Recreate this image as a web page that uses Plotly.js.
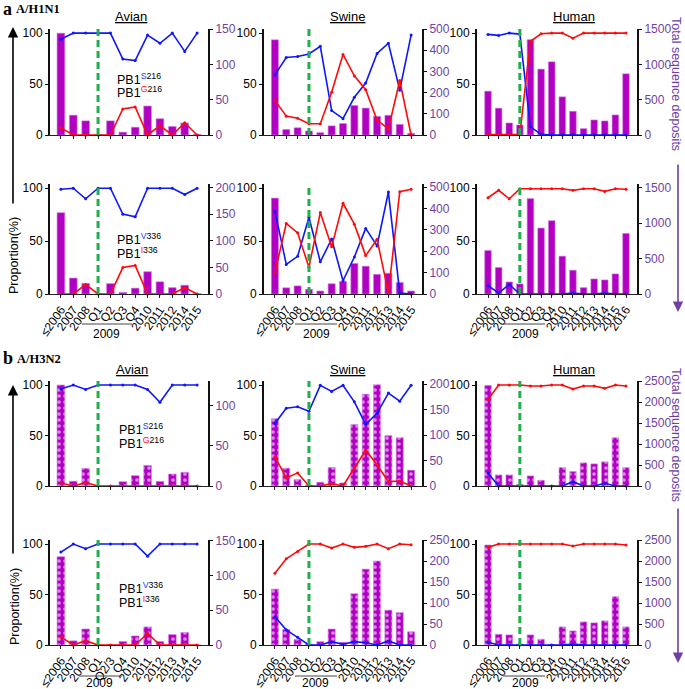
<!DOCTYPE html>
<html><head><meta charset="utf-8">
<script src="https://cdn.plot.ly/plotly-3.0.1.min.js"></script>
<style>html,body{margin:0;padding:0;background:#fff;}</style>
</head><body><div id="chart" style="width:685px;height:689px;"></div>
<script>
// ---------- categories ----------
const avianH1Cats = ['≤2006','2007','2008','Q1','Q2','Q3','Q4','2010','2011','2012','2014','2015'];
const avianH3Cats = ['≤2006','2007','2008','Q1','Q2/3','Q4','2010','2011','2012','2013','2014','2015'];
const swineCats   = ['≤2006','2007','2008','Q1','Q2','Q3','Q4','2010','2011','2012','2013','2014','2015'];
const humanCats   = ['≤2006','2007','2008','Q1','Q2','Q3','Q4','2010','2011','2012','2013','2014','2015','2016'];

// ---------- A/H1N1, residue 216 ----------
const h1AvianDep216 = [144, 28, 20, 0, 20, 4, 11, 41, 23, 12, 17, 1];
const h1AvianS216   = [94, 100, 100, 100, 100, 74.5, 73, 98, 90, 100, 82, 100];
const h1AvianG216   = [7, 0, 0, 0, 0, 25.5, 27.5, 0, 9, 0, 12, 0];
const h1SwineDep216 = [449, 26, 34, 19, 11, 43, 54, 139, 127, 88, 93, 50, 8];
const h1SwineS216   = [59, 76, 77, 79.5, 87, 24, 16, 37, 51, 80, 90, 44, 98];
const h1SwineG216   = [34, 18.5, 16.5, 11, 11, 42, 79, 58, 44.5, 14.6, 6, 53.5, 0];
const h1HumanDep216 = [620, 379, 170, 142, 1349, 932, 1036, 540, 336, 90, 213, 199, 284, 866];
const h1HumanS216   = [98.7, 97.7, 100, 99, 8, 0.7, 0, 0, 0.7, 0, 0, 0, 0, 0];
const h1HumanG216   = [0.5, 0.5, 0.3, 0.5, 92, 99.3, 100, 100, 95, 100, 100, 100, 100, 100];

// ---------- A/H1N1, residue 336 ----------
const h1AvianDep336 = [153, 30, 20, 0, 19.5, 3, 11, 42, 23, 12, 16.5, 1];
const h1AvianV336   = [99, 100, 90, 100, 100, 75.5, 73, 100, 100, 100, 94, 100];
const h1AvianI336   = [0, 0, 9, 0, 0, 25, 27, 0, 0, 0, 6, 0];
const h1SwineDep336 = [449, 29, 38, 22, 14, 48, 59, 143, 130, 92, 97, 54, 14];
const h1SwineV336   = [78.5, 28, 35.6, 72.6, 30.4, 52, 12.5, 35, 62, 45.5, 96.4, 1, 0];
const h1SwineI336   = [20, 66.7, 57.8, 25.4, 77, 44.6, 85.8, 66, 36.3, 51.8, 1, 96.7, 99];
const h1HumanDep336 = [613, 373, 170, 142, 1344, 929, 1033, 533, 335, 90, 212, 198, 283, 854];
const h1HumanV336   = [8, 1, 9, 0, 0, 0, 0, 0, 1, 0, 0, 1, 0, 0];
const h1HumanI336   = [91, 98, 90, 99.5, 99.5, 99.5, 99.5, 99.5, 98, 99.5, 99.5, 97, 99.5, 99];

// ---------- A/H3N2, residue 216 ----------
const h3AvianDep216 = [126, 6, 22, 0, 0, 5.4, 13, 25.6, 5.8, 15, 17, 0];
const h3AvianS216   = [96, 100, 95.6, 100, 100, 100, 100, 95.6, 83, 100, 100, 100];
const h3AvianG216   = [3, 0, 3.3, 0, 0, 0, 0, 0, 0, 0, 0, 0];
const h3SwineDep216 = [132, 35, 12.6, 2, 7.3, 36.4, 6, 120.5, 180, 198.7, 98.7, 94.7, 31];
const h3SwineS216   = [62, 77, 78.5, 74, 99.7, 93.7, 99.7, 83.4, 61, 72, 92, 84, 99.7];
const h3SwineG216   = [29, 8, 13, 0, 0, 2.3, 0, 18, 35.4, 21, 4.3, 5, 0];
const h3HumanDep216 = [2396, 264, 264, 40, 240, 136, 0, 439, 343, 551, 527, 575, 1150, 439];
const h3HumanS216   = [13, 0, 0, 0, 0, 0, 0, 0, 4.3, 0, 0, 2.7, 0, 0];
const h3HumanG216   = [85.7, 100, 100, 100, 99, 99, 100, 100, 96, 99, 99, 96.7, 100, 99];

// ---------- A/H3N2, residue 336 ----------
const h3AvianDep336 = [127, 6, 23, 0, 0, 5, 13, 26, 5, 15, 18, 0];
const h3AvianV336   = [92, 100, 95.4, 100, 100, 100, 100, 88, 100, 100, 100, 100];
const h3AvianI336   = [8, 0, 4.3, 0, 0, 0, 0, 11.6, 0, 0, 0, 0];
const h3SwineDep336 = [133, 37, 13.4, 2.4, 7.9, 38, 6.3, 122, 180.6, 200, 83, 77, 31.5];
const h3SwineV336   = [28, 15, 7.6, 0, 0, 3.3, 0.7, 3.3, 2.3, 0, 4, 0, 0];
const h3SwineI336   = [71, 85.4, 92.7, 100, 100, 96, 100, 96.7, 97.7, 100, 95.4, 100, 99.3];
const h3HumanDep336 = [2380, 256, 240, 24, 240, 136, 0, 431, 335, 551, 527, 575, 1150, 431];
const h3HumanV336   = [2.7, 0, 0, 0, 0, 0, 0, 0, 1, 0, 0, 0, 0, 0];
const h3HumanI336   = [96.7, 100, 100, 100, 100, 100, 100, 100, 98, 100, 100, 100, 100, 99];

// ---------- layout helpers ----------
const W = 685, H = 689;
const PX = x => x / W, PY = y => 1 - y / H;
const cols = [[50, 208], [264, 422], [477, 637]];
const rows = [[29, 135], [184, 294], [381, 486], [540, 645]];
const PURPLE = '#6f3fa3', BAR = '#b200c2', BLUE = '#0c16ff', RED = '#ff0a0a', GREEN = '#1fb04b';
const FONT = 'Liberation Sans, Arial, Helvetica, sans-serif';

const panels = [
  {r:0,c:0,cats:avianH1Cats,dep:h1AvianDep216,blue:h1AvianS216,red:h1AvianG216,rmax:150,dt:50,pat:false},
  {r:0,c:1,cats:swineCats,dep:h1SwineDep216,blue:h1SwineS216,red:h1SwineG216,rmax:500,dt:100,pat:false},
  {r:0,c:2,cats:humanCats,dep:h1HumanDep216,blue:h1HumanS216,red:h1HumanG216,rmax:1500,dt:500,pat:false},
  {r:1,c:0,cats:avianH1Cats,dep:h1AvianDep336,blue:h1AvianV336,red:h1AvianI336,rmax:207,dt:50,pat:false},
  {r:1,c:1,cats:swineCats,dep:h1SwineDep336,blue:h1SwineV336,red:h1SwineI336,rmax:515,dt:100,pat:false},
  {r:1,c:2,cats:humanCats,dep:h1HumanDep336,blue:h1HumanV336,red:h1HumanI336,rmax:1550,dt:500,pat:false},
  {r:2,c:0,cats:avianH3Cats,dep:h3AvianDep216,blue:h3AvianS216,red:h3AvianG216,rmax:131,dt:50,pat:true},
  {r:2,c:1,cats:swineCats,dep:h3SwineDep216,blue:h3SwineS216,red:h3SwineG216,rmax:206,dt:50,pat:true},
  {r:2,c:2,cats:humanCats,dep:h3HumanDep216,blue:h3HumanS216,red:h3HumanG216,rmax:2500,dt:500,pat:true},
  {r:3,c:0,cats:avianH3Cats,dep:h3AvianDep336,blue:h3AvianV336,red:h3AvianI336,rmax:151,dt:50,pat:true},
  {r:3,c:1,cats:swineCats,dep:h3SwineDep336,blue:h3SwineV336,red:h3SwineI336,rmax:250,dt:50,pat:true},
  {r:3,c:2,cats:humanCats,dep:h3HumanDep336,blue:h3HumanV336,red:h3HumanI336,rmax:2500,dt:500,pat:true}
];

const traces = [];
const layout = {
  width: W, height: H, margin: {l:0, r:0, t:0, b:0, pad:0},
  paper_bgcolor: '#fff', plot_bgcolor: '#fff', showlegend: false,
  bargap: 0.38, font: {family: FONT, size: 12, color: '#000'},
  shapes: [], annotations: []
};

panels.forEach((p, i) => {
  const xn = i + 1, yb = 2 * i + 1, yl = 2 * i + 2;
  const xk = xn === 1 ? 'xaxis' : 'xaxis' + xn, xr = xn === 1 ? 'x' : 'x' + xn;
  const ybk = yb === 1 ? 'yaxis' : 'yaxis' + yb, ybr = yb === 1 ? 'y' : 'y' + yb;
  const ylk = 'yaxis' + yl, ylr = 'y' + yl;
  const xd = [PX(cols[p.c][0]), PX(cols[p.c][1])];
  const yd = [PY(rows[p.r][1]), PY(rows[p.r][0])];
  const showLabels = (p.r === 1 || p.r === 3);
  layout[xk] = {
    domain: xd, anchor: ybr, type: 'category', showgrid: false, zeroline: false,
    tickmode: 'array', tickvals: p.cats, ticktext: p.cats,
    showline: true, linecolor: '#222', linewidth: 1, ticks: 'outside', ticklen: 3, tickcolor: '#222',
    showticklabels: showLabels, tickangle: -55, tickfont: {size: 12, color: '#000'}, fixedrange: true
  };
  const rt = []; for (let v = 0; v <= p.rmax + 1e-9; v += p.dt) rt.push(v);
  layout[ybk] = {
    domain: yd, anchor: xr, side: 'right', range: [0, p.rmax], tickvals: rt,
    showgrid: false, zeroline: false, showline: true, linecolor: '#111', linewidth: 2,
    ticks: 'outside', ticklen: 3, tickcolor: '#111', tickfont: {size: 12, color: PURPLE}
  };
  layout[ylk] = {
    domain: yd, anchor: xr, overlaying: ybr, side: 'left', range: [0, 104], tickvals: [0, 50, 100],
    showgrid: false, zeroline: false, showline: true, linecolor: '#111', linewidth: 2,
    ticks: 'outside', ticklen: 3, tickcolor: '#111', tickfont: {size: 12, color: '#000'}
  };
  const marker = {color: BAR, line: {color: '#d27ae2', width: 0.6}};
  if (p.pat) marker.pattern = {shape: '.', fillmode: 'replace', bgcolor: BAR, fgcolor: '#d88be6', size: 6, solidity: 0.3};
  traces.push({type: 'bar', x: p.cats, y: p.dep, xaxis: xr, yaxis: ybr, marker: marker, hoverinfo: 'skip'});
  traces.push({type: 'scatter', mode: 'lines+markers', x: p.cats, y: p.blue, xaxis: xr, yaxis: ylr,
    line: {color: BLUE, width: 1.6}, marker: {color: BLUE, size: 3}, cliponaxis: false});
  traces.push({type: 'scatter', mode: 'lines+markers', x: p.cats, y: p.red, xaxis: xr, yaxis: ylr,
    line: {color: RED, width: 1.6}, marker: {color: RED, size: 3}, cliponaxis: false});
  const q1 = p.cats.indexOf('Q1');
  layout.shapes.push({type: 'line', xref: xr, yref: ybr + ' domain', x0: q1, x1: q1, y0: 0, y1: 1,
    line: {color: GREEN, width: 3, dash: '7px,4px'}});
});

// ---------- texts ----------
const ann = layout.annotations;
function txt(x, y, text, opt) {
  ann.push(Object.assign({xref: 'paper', yref: 'paper', x: PX(x), y: PY(y), text: text, showarrow: false,
    xanchor: 'center', yanchor: 'middle', font: {family: FONT, size: 12, color: '#000'}}, opt || {}));
}
// column titles
[[131, 17], [348, 17], [574, 17], [132, 369], [348, 369], [574, 369]].forEach((pos, k) => {
  txt(pos[0], pos[1], '<u>' + ['Avian', 'Swine', 'Human'][k % 3] + '</u>', {font: {family: FONT, size: 13, color: '#000'}});
});
// residue labels
const sup = (letter, color, num) => 'PB1<sup><span style="color:' + color + '">' + letter + '</span>' + num + '</sup>';
[[79, 92, 'S', 'G', '216'], [239, 253, 'V', 'I', '336'], [429, 443, 'S', 'G', '216'], [588, 602, 'V', 'I', '336']].forEach((d, k) => {
  const x = k < 2 ? 115 : 117;
  txt(x, d[0], sup(d[2], '#2a3cff', d[4]), {xanchor: 'left', font: {family: FONT, size: 12.5, color: '#000'}});
  txt(x, d[1], sup(d[3], '#ff1010', d[4]), {xanchor: 'left', font: {family: FONT, size: 12.5, color: '#000'}});
});
// 2009 group labels
[[106, 334], [316, 334], [525, 334], [99, 683], [315, 683], [525, 683]].forEach(pos => txt(pos[0], pos[1], '2009'));
[[82, 132, 324], [295, 337, 324], [503, 545, 324], [79, 122, 676], [295, 337, 676], [503, 545, 676]].forEach(s => {
  layout.shapes.push({type: 'line', xref: 'paper', yref: 'paper', x0: PX(s[0]), x1: PX(s[1]), y0: PY(s[2]), y1: PY(s[2]),
    line: {color: '#444', width: 1}});
});
// panel labels
txt(1, 9, '<b>a</b>', {xanchor: 'left', font: {family: 'Liberation Serif, Times New Roman, serif', size: 18, color: '#000'}});
txt(14, 9, '<b>A/H1N1</b>', {xanchor: 'left', font: {family: 'Liberation Serif, Times New Roman, serif', size: 12.5, color: '#000'}});
txt(1, 358, '<b>b</b>', {xanchor: 'left', font: {family: 'Liberation Serif, Times New Roman, serif', size: 18, color: '#000'}});
txt(15, 359, '<b>A/H3N2</b>', {xanchor: 'left', font: {family: 'Liberation Serif, Times New Roman, serif', size: 12.5, color: '#000'}});
// side labels
txt(14, 256, 'Proportion(%)', {textangle: -90, font: {family: FONT, size: 12.5, color: '#000'}});
txt(15, 607, 'Proportion(%)', {textangle: -90, font: {family: FONT, size: 12.5, color: '#000'}});
txt(676, 84, 'Total sequence deposits', {textangle: 90, font: {family: FONT, size: 12.5, color: PURPLE}});
txt(676, 435, 'Total sequence deposits', {textangle: 90, font: {family: FONT, size: 12.5, color: PURPLE}});
// arrows
function arrow(x, yTip, yTail, color) {
  ann.push({xref: 'paper', yref: 'paper', x: PX(x), y: PY(yTip), ax: 0, ay: yTail - yTip, axref: 'pixel', ayref: 'pixel',
    text: '', showarrow: true, arrowhead: 2, arrowsize: 1.3, arrowwidth: 1.6, arrowcolor: color, standoff: 0});
}
arrow(13, 27, 205, '#000');
arrow(13, 385, 555, '#000');
arrow(678, 312, 163, PURPLE);
arrow(678, 663, 507, PURPLE);

Plotly.newPlot('chart', traces, layout, {displayModeBar: false, staticPlot: true});
</script>
</body></html>
